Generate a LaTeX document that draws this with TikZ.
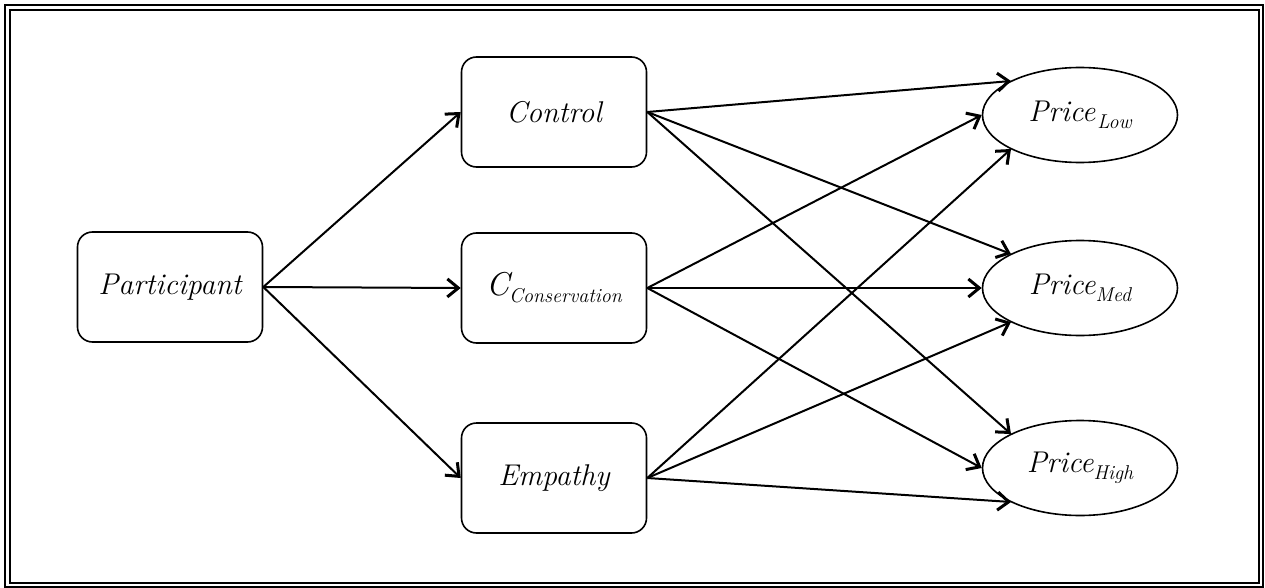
\documentclass[tikz,border=0pt]{standalone}
\usetikzlibrary{arrows.meta,calc,shapes.geometric}
% label fonts
\newcommand\lbl{\fontsize{30}{34}\selectfont\itshape}
\newcommand\lowsub[1]{\raisebox{-7pt}{\fontsize{20}{22}\selectfont\itshape #1}}
\begin{document}
\begin{tikzpicture}[x=1pt,y=-1pt,
  box/.style={draw,line width=1.6pt,rounded corners=15pt,minimum width=185pt,
    minimum height=110pt,inner sep=0pt,font=\lbl},
  oval/.style={draw,ellipse,line width=1.6pt,minimum width=195pt,
    minimum height=95pt,inner sep=0pt,font=\lbl},
  link/.style={line width=2pt,
    -{Straight Barb[length=11pt,width=18pt,line width=3pt]}}]
\useasboundingbox (0,0) rectangle (1265,588);
% double frame
\draw[line width=2.2pt] (5,5) rectangle (1263,587);
\draw[line width=1.4pt] (10,10) rectangle (1259,583);

% boxes
\node[box] (part) at (170,287) {Participant};
\node[box] (ctrl) at (554,112) {Control};
\node[box] (cons) at (554,288) {{\fontsize{33}{34}\selectfont C}\lowsub{Conservation}};
\node[box] (emp)  at (554,478) {Empathy};

% outcome ellipses
\node[oval] (low)  at (1080,115) {Price\kern2pt\lowsub{Low}};
\node[oval] (med)  at (1080,288) {Price\lowsub{Med}};
\node[oval] (high) at (1080,468) {Price\lowsub{High}};

% upper-left and lower-left contact points on each ellipse
\foreach \e in {low,med,high}{
  \coordinate (\e-nw) at ($(\e.center)+(-69,-34)$);
  \coordinate (\e-sw) at ($(\e.center)+(-69,34)$);
}

% participant to conditions
\draw[link] (part.east) -- (ctrl.west);
\draw[link] (part.east) -- (cons.west);
\draw[link] (part.east) -- (emp.west);

% conditions to prices
\foreach \e in {low,med,high}{
  \draw[link] (ctrl.east) -- (\e-nw);
  \draw[link] (cons.east) -- (\e.west);
  \draw[link] (emp.east) -- (\e-sw);
}
\end{tikzpicture}
\end{document}
